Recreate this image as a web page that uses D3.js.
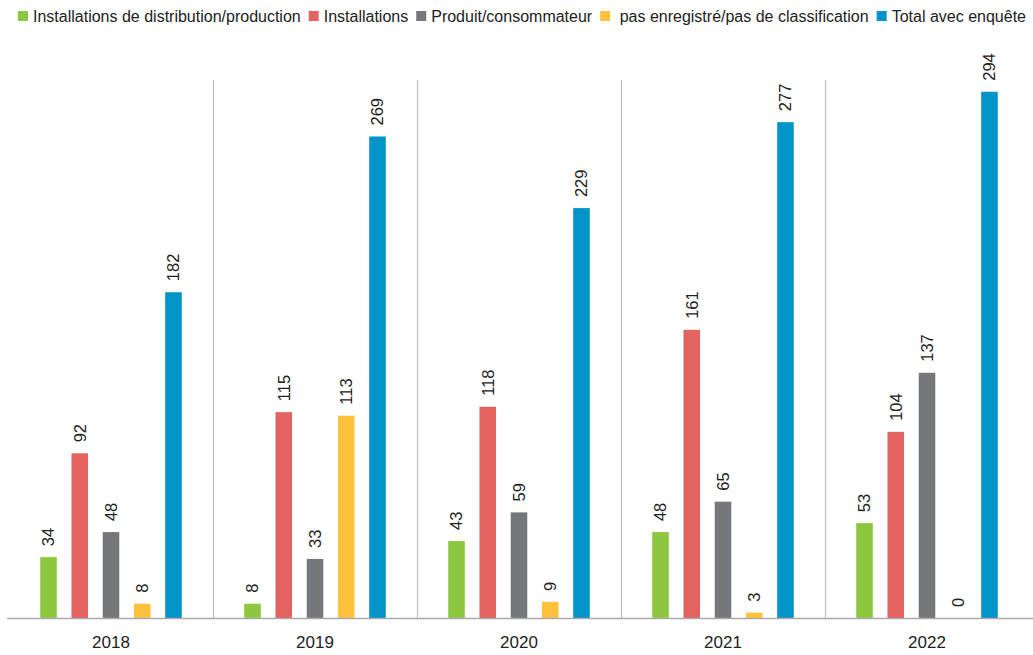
<!DOCTYPE html>
<html>
<head>
<meta charset="utf-8">
<script src="https://cdn.jsdelivr.net/npm/d3@7"></script>
<style>
    body { margin: 0; background: #fff; }
    svg { display: block; font-family: "Liberation Sans", Arial, sans-serif; }
</style>
</head>
<body>
<svg id="chart" width="1033" height="655"></svg>
<script>
const years = ['2018', '2019', '2020', '2021', '2022']
const seriesNames = [
    'Installations de distribution/production',
    'Installations',
    'Produit/consommateur',
    ' pas enregistré/pas de classification',
    'Total avec enquête'
]
const seriesColors = ['#8dc63f', '#e2635f', '#76777a', '#fec13b', '#0094c8']
const distribution = [34, 8, 43, 48, 53]
const installations = [92, 115, 118, 161, 104]
const produit = [48, 33, 59, 65, 137]
const nonClasse = [8, 113, 9, 3, 0]
const total = [182, 269, 229, 277, 294]

const values = [distribution, installations, produit, nonClasse, total]

const svg = d3.select('#chart')
const width = 1033
const baseY = 618

const x0 = d3.scaleBand().domain(years).range([9, 1029])
const x1 = d3.scaleBand().domain(d3.range(seriesNames.length))
    .range([0, x0.bandwidth()])
    .paddingInner(0.47)
    .paddingOuter(1)
const y = d3.scaleLinear().domain([0, 300]).range([baseY, 81])

// separators between years
svg.append('g')
    .selectAll('line')
    .data(years.slice(1))
    .join('line')
    .attr('x1', d => x0(d) + 0.5)
    .attr('x2', d => x0(d) + 0.5)
    .attr('y1', 80)
    .attr('y2', baseY)
    .attr('stroke', '#bdbdbd')
    .attr('stroke-width', 1.2)

const rows = years.flatMap((yr, i) => values.map((s, k) => ({ yr, k, v: s[i] })))

const group = svg.append('g')
group.selectAll('rect')
    .data(rows.filter(d => d.v > 0))
    .join('rect')
    .attr('x', d => x0(d.yr) + x1(d.k))
    .attr('width', x1.bandwidth())
    .attr('y', d => y(d.v))
    .attr('height', d => baseY - y(d.v))
    .attr('fill', d => seriesColors[d.k])

group.selectAll('text')
    .data(rows)
    .join('text')
    .attr('transform', d => `translate(${x0(d.yr) + x1(d.k) + x1.bandwidth() / 2},${y(d.v) - 11}) rotate(-90)`)
    .attr('dy', '0.36em')
    .attr('font-size', 16.5)
    .attr('fill', '#222')
    .text(d => d.v)

// baseline axis
svg.append('line')
    .attr('x1', 7).attr('x2', width)
    .attr('y1', baseY + 0.5).attr('y2', baseY + 0.5)
    .attr('stroke', '#aaa')
    .attr('stroke-width', 1.5)

svg.append('g')
    .selectAll('text')
    .data(years)
    .join('text')
    .attr('x', d => x0(d) + x0.bandwidth() / 2)
    .attr('y', 648)
    .attr('text-anchor', 'middle')
    .attr('font-size', 17)
    .attr('fill', '#222')
    .text(d => d)

// legend
const legend = svg.append('g')
let lx = 18
seriesNames.forEach((name, k) => {
    legend.append('rect')
        .attr('x', lx).attr('y', 11)
        .attr('width', 10).attr('height', 10)
        .attr('fill', seriesColors[k])
    const t = legend.append('text')
        .attr('x', lx + 15).attr('y', 21.5)
        .attr('font-size', 16)
        .attr('fill', '#222')
        .style('white-space', 'pre')
        .text(name)
    lx += 15 + t.node().getComputedTextLength() + 8
})
</script>
</body>
</html>
